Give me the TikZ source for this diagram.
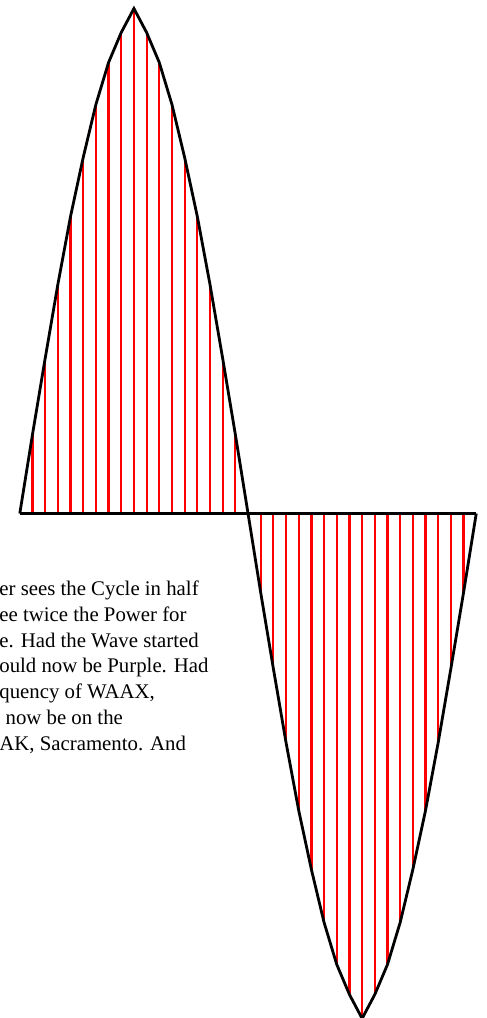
\documentclass[tikz,border=0pt]{standalone}
\usepackage{fontspec}
\setmainfont{Liberation Serif}
\usetikzlibrary{positioning,calc}
\usepackage{xcolor}

\begin{document}
\begin{tikzpicture}[
    x=0.5pt, y=-0.5pt,
    wave/.style={draw=black, line width=1.4pt, line join=miter},
    rung/.style={draw=red, line width=1.1pt},
    axis/.style={draw=black, line width=1.1pt},
    story/.style={
        inner sep=0pt,
        align=left,
        font=\fontsize{10.4pt}{12.85pt}\selectfont
    }
]
\useasboundingbox (0,0) rectangle (487,1018);

% Heights of one half wave, step by step
\def\halfwave{1/79,2/155,3/229,4/297,5/356,6/409,7/451,8/481,9/505,
    10/481,11/451,12/409,13/356,14/297,15/229,16/155,17/79,18/0}

% Axis ends
\coordinate (start) at (19.8,513.5);
\coordinate (mid) at (248,513.5);
\coordinate (end) at (476.3,513.5);

% Red rungs
\foreach \k/\h in \halfwave {
    \draw[rung] ($(start)+(\k*12.68,0)$) -- ++(0,-\h);
    \draw[rung] ($(mid)+(\k*12.68,0)$) -- ++(0,\h);
}

% Axis
\draw[axis] (start) -- (end);

% Wave
\draw[wave] (start)
    \foreach \k/\h in \halfwave { -- ($(start)+(\k*12.68,-\h)$) }
    \foreach \k/\h in \halfwave { -- ($(mid)+(\k*12.68,\h)$) };

% Text (base is the last line)
\node[story, anchor=base west] (text) at (-1,750) {er sees the Cycle in half\\
ee twice the Power for\\
e. Had the Wave started\\
ould now be Purple. Had\\
quency of WAAX,\\
\hspace*{0.3em}now be on the\\
AK, Sacramento. And};

\end{tikzpicture}
\end{document}
